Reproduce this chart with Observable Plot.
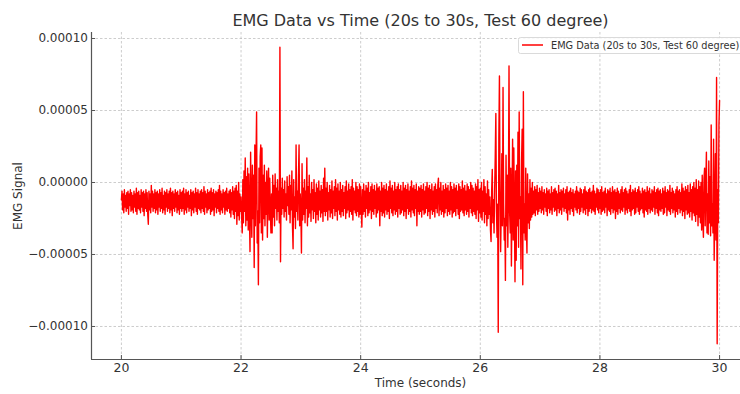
<!DOCTYPE html>
<html>
<head>
<meta charset="utf-8">
<script src="https://cdn.jsdelivr.net/npm/d3@7"></script>
<script src="https://cdn.jsdelivr.net/npm/@observablehq/plot@0.6"></script>
<style>
  html, body { margin: 0; padding: 0; background: #fff; }
  #chart { width: 740px; height: 394px; }
</style>
</head>
<body>
<div id="chart"></div>
<script>
// EMG samples in micro-units (×1e-6), one sample every 0.01 s from 20 s to 30 s
const emgMicro = [
  // 20 s
  -12,-6,-19,-8,-21,-5,-17,-9,-20,-7,
  -18,-6,-22,-8,-16,-5,-20,-7,-19,-9,
  -21,-6,-17,-8,-20,-4,-22,-7,-18,-6,
  -19,-9,-21,-5,-17,-7,-20,-6,-23,-8,
  -18,-5,-20,-7,-22,-29,-6,-19,-8,-21,
  -2,-17,-6,-20,-8,-18,-5,-21,-7,-19,
  -6,-22,-8,-17,-5,-20,-7,-18,-4,-21,
  -9,-19,-6,-22,-7,-17,-5,-20,-8,-18,
  -6,-21,-4,-19,-7,-23,-6,-18,-8,-20,
  -5,-17,-7,-21,-6,-19,-9,-22,-5,-18,
  // 21 s
  -7,-20,-6,-18,-4,-22,-8,-19,-5,-21,
  -7,-17,-6,-20,-9,-18,-5,-23,-7,-19,
  -6,-21,-8,-17,-4,-20,-7,-22,-5,-18,
  -8,-19,-6,-21,-5,-18,-7,-20,-3,-22,
  -6,-17,-8,-21,-5,-19,-7,-18,-6,-22,
  -4,-20,-7,-19,-5,-23,-8,-17,-6,-21,
  -7,-18,-5,-20,-2,-22,-6,-19,-8,-21,
  -5,-17,-7,-22,-6,-19,-4,-20,-8,-18,
  -6,-21,-5,-24,-7,-19,-3,-22,-6,-25,
  -4,-20,-2,-29,-6,-23,0,-26,-8,-20,
  // 22 s
  -10,-24,-35,2,-28,8,-20,17,-30,4,
  -26,10,-33,6,-22,-48,21,-18,-38,12,
  -25,5,-59,26,-30,15,49,-42,-20,-71,
  10,-28,18,26,-35,24,-40,5,-25,12,
  -30,0,-22,8,-38,-5,10,-26,3,-20,
  -35,-8,-35,5,-24,-2,-30,6,-18,-4,
  -26,2,-20,-6,-28,94,-55,-4,-22,3,
  -18,-5,-24,1,-20,-8,-26,4,-16,-3,
  -22,5,-28,-2,-19,8,-30,-46,2,-24,
  -10,-32,26,-20,-6,-26,4,26,-30,-8,
  // 23 s
  -20,-49,13,-26,-4,-22,2,-28,-6,-18,
  17,-30,-3,-24,5,-21,-8,-27,0,-19,
  -5,-25,2,-20,-7,-28,-1,-22,-4,-26,
  1,-19,-6,-24,-2,-21,-5,-27,3,-20,
  10,-23,-4,-20,0,-26,-7,-19,-2,-24,
  -5,-21,1,-25,-6,-18,-3,-23,2,-20,
  -4,-26,-1,-19,-6,-22,0,-24,-5,-20,
  -2,-23,-7,-18,-3,-25,1,-21,-6,-19,
  -1,-24,-5,-20,-3,-22,2,-26,-4,-19,
  -6,-21,0,-23,-3,-20,-5,-24,-1,-22,
  // 24 s
  -3,-19,-31,-5,-22,-1,-20,-6,-24,-2,
  -18,-4,-23,0,-21,-7,-19,-3,-25,-1,
  -20,-5,-22,-2,-18,-6,-24,-1,-21,-4,
  -19,-3,-30,-6,-20,0,-23,-4,-21,-2,
  -24,-5,-19,-1,-22,-6,-20,-3,-25,1,
  -18,-4,-21,-2,-23,-6,-19,0,-22,-5,
  -20,-3,-24,-1,-18,-5,-22,-2,-21,-6,
  -19,0,-23,-4,-20,-2,-25,-5,-18,-1,
  -22,-6,-20,-3,-24,1,-19,-4,-21,-2,
  -23,-5,-18,-1,-30,-6,-20,-3,-22,-4,
  // 25 s
  -20,-2,-24,-5,-19,-1,-22,-6,-21,-3,
  -18,0,-23,-4,-20,-2,-25,-5,-19,-1,
  -22,-6,-20,-3,-24,-1,-18,-5,-21,-2,
  3,-23,-4,-19,0,-22,-6,-20,-2,-24,
  -5,-21,-1,-18,-4,-23,-2,-20,-6,-22,
  0,-19,-3,-24,-5,-21,-1,-20,-4,-23,
  -2,-18,-6,-22,-1,-25,-3,-20,-5,-19,
  1,-21,-4,-23,-2,-19,-6,-22,-1,-20,
  -3,-24,-5,-18,0,-21,-2,-23,-4,-20,
  -6,-22,-1,-25,-3,-19,2,-27,-5,-21,
  // 26 s
  -4,-24,0,-26,-6,-20,2,-28,-3,-22,
  -8,-30,1,-25,-5,-22,-10,-33,-41,-6,
  9,-28,-12,-35,-5,18,48,-20,-38,-15,
  -104,30,74,-10,-48,-20,20,-30,66,-15,
  -40,-25,-68,19,-30,5,-45,-10,81,-20,
  -35,10,-58,-15,30,-40,24,-20,-69,8,
  -54,12,-30,35,-45,49,-25,-10,-60,15,
  37,-71,63,-35,-15,-40,10,-30,-49,6,
  -28,-8,-32,2,-26,-4,-24,0,-22,-6,
  -21,-3,-23,-5,-19,-2,-22,-7,-20,-4,
  // 27 s
  -18,-6,-21,-3,-19,-7,-22,-5,-17,-8,
  -20,-4,-23,-6,-18,-5,-21,-8,-19,-3,
  -22,-7,-17,-5,-20,-4,-19,-6,-23,-8,
  -18,-2,-21,-7,-19,-5,-22,-6,-17,-4,
  -20,-8,-18,-5,-21,-3,-26,-7,-19,-6,
  -22,-4,-18,-7,-20,-5,-23,-8,-17,-6,
  -19,-3,-21,-6,-18,-7,-22,-4,-20,-5,
  -17,-8,-21,-5,-19,-3,-22,-6,-18,-7,
  -23,-5,-20,-4,-18,-7,-21,-6,-19,-2,
  -20,-6,-22,-8,-17,-4,-19,-5,-21,-7,
  // 28 s
  -18,-5,-22,-3,-20,-7,-19,-6,-21,-4,
  -17,-8,-23,-5,-19,-6,-20,-4,-22,-7,
  -18,-3,-21,-6,-19,-5,-25,-7,-20,-4,
  -22,-6,-18,-8,-21,-5,-19,-3,-20,-7,
  -17,-5,-22,-4,-19,-6,-21,-8,-18,-5,
  -20,-2,-23,-7,-19,-5,-18,-6,-22,-4,
  -21,-7,-17,-5,-20,-3,-22,-6,-19,-8,
  -18,-4,-21,-6,-24,-5,-19,-7,-20,-3,
  -22,-6,-18,-4,-21,-8,-19,-5,-20,-6,
  -17,-3,-22,-7,-18,-5,-21,-4,-23,-6,
  // 29 s
  -19,-5,-20,-8,-18,-4,-22,-6,-21,-3,
  -17,-7,-23,-5,-19,-6,-20,-2,-22,-7,
  -18,-4,-21,-6,-19,-8,-24,-5,-20,-3,
  -22,-6,-18,-5,-21,-7,-19,-1,-23,-4,
  -20,-6,-25,-3,-19,-5,-22,-2,-21,-7,
  -24,-1,-20,-5,-26,-3,-21,0,-23,-4,
  -27,2,-22,-5,-30,1,-24,-3,-28,0,
  -33,5,-26,-38,3,10,-30,-2,21,-35,
  -8,-36,15,-28,4,-37,40,-30,-15,-35,
  30,-54,-20,20,-40,73,-112,-5,-28,40,
  // 30 s
  57
];
const startTime = 20;
const sampleStep = 0.01;
const microUnit = 1e-6;

const xTicks = [20, 22, 24, 26, 28, 30];
const yTicks = [-0.0001, -0.00005, 0, 0.00005, 0.0001];

const titleText = "EMG Data vs Time (20s to 30s, Test 60 degree)";
const xLabel = "Time (seconds)";
const yLabel = "EMG Signal";
const legendLabel = "EMG Data (20s to 30s, Test 60 degree)";

const data = emgMicro.map((v, i) => ({ t: startTime + i * sampleStep, v: v * microUnit }));

const fmtY = d => {
  if (Math.abs(d) < 1e-12) return "0.00000";
  return (d < 0 ? "\u2212" : "") + Math.abs(d).toFixed(5);
};

const gridStyle = { stroke: "#b0b0b0", strokeOpacity: 0.8, strokeWidth: 0.8, strokeDasharray: "2.5,2" };
const font = "DejaVu Sans, sans-serif";

const chart = Plot.plot({
  width: 740,
  height: 394,
  marginLeft: 91,
  marginRight: 0,
  marginTop: 32,
  marginBottom: 35,
  style: { fontFamily: font, fontSize: "12px", color: "#333", background: "#fff", overflow: "visible" },
  x: { domain: [19.5, 30.35] },
  y: { domain: [-1.22917e-4, 1.04167e-4] },
  marks: [
    Plot.gridX(xTicks, gridStyle),
    Plot.gridY(yTicks, gridStyle),
    Plot.line(data, { x: "t", y: "v", stroke: "#ff0000", strokeWidth: 1.4 }),
    Plot.ruleX([19.5], { stroke: "#555", strokeWidth: 1.2 }),
    Plot.ruleY([-1.22917e-4], { stroke: "#555", strokeWidth: 1.2 }),
    Plot.axisX(xTicks, { tickSize: -4, tickPadding: 8, tickFormat: d => String(d), label: null, stroke: "#555", fill: "#333", fontSize: 12.5 }),
    Plot.axisY(yTicks, { tickSize: -4, tickPadding: 7.5, tickFormat: fmtY, label: null, stroke: "#555", fill: "#333", fontSize: 12 }),
    Plot.text([titleText], { frameAnchor: "top", lineAnchor: "middle", dx: 4.5, dy: -12, fontSize: 16, fill: "#333", text: d => d }),
    Plot.text([xLabel], { frameAnchor: "bottom", lineAnchor: "middle", dx: 4.5, dy: 24, fontSize: 12, fill: "#333", text: d => d }),
    Plot.text([yLabel], { frameAnchor: "left", lineAnchor: "middle", textAnchor: "middle", dx: -73, dy: 0, rotate: -90, fontSize: 12, fill: "#333", text: d => d })
  ]
});

// Legend box (matplotlib-style, upper right)
const svg = d3.select(chart);
const lg = svg.append("g").attr("class", "legend").attr("text-anchor", "start");
lg.append("rect").attr("x", 518.5).attr("y", 37.5).attr("width", 240).attr("height", 16)
  .attr("rx", 2).attr("fill", "#fff").attr("fill-opacity", 0.85).attr("stroke", "#d0d0d0").attr("stroke-width", 0.8);
lg.append("line").attr("x1", 522).attr("x2", 543).attr("y1", 45).attr("y2", 45)
  .attr("stroke", "#ff0000").attr("stroke-width", 1.5);
lg.append("text").attr("x", 551).attr("y", 48.8).attr("font-size", 9.75).attr("fill", "#333")
  .attr("text-anchor", "start").attr("font-family", font).text(legendLabel);

document.getElementById("chart").appendChild(chart);
</script>
</body>
</html>
